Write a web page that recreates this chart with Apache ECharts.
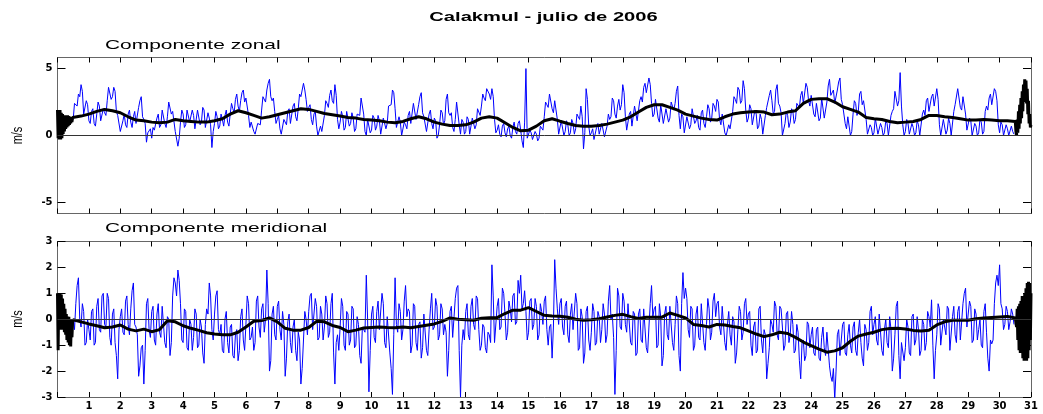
<!DOCTYPE html>
<html><head><meta charset="utf-8">
<script src="https://cdn.jsdelivr.net/npm/echarts@6/dist/echarts.min.js"></script>
<style>html,body{margin:0;padding:0;background:#fff}#c{width:1043px;height:414px}</style>
</head><body><div id="c"></div>
<script>
const TITLE = 'Calakmul - julio de 2006';
const PANEL_TITLES = ['Componente zonal', 'Componente meridional'];
const Y_UNIT = 'm/s';
const DAY_MIN = 0, DAY_MAX = 31;
const ZONAL_TICKS = [-5, 0, 5];
const MERID_TICKS = [-3, -2, -1, 0, 1, 2, 3];

// raw series: 24 samples per day (hourly), one row per day 0..30
const RAW_PER_DAY = 24;
const zonalRaw = [
null,null,null,null,null,null,null,null,null,null,null,null,1.2,2.4,2.4,2.2,3.1,2.9,3.8,3.3,1.6,1.5,2.6,2.3,
1.1,0.9,1.8,2.0,0.9,0.7,1.6,2.5,2.2,1.1,1.2,2.0,1.7,1.5,2.6,3.6,3.7,2.7,2.9,3.6,3.3,1.8,1.5,1.4,
0.3,0.2,1.1,1.6,0.8,0.6,1.6,1.9,1.0,0.6,1.4,1.8,0.9,0.9,2.1,2.6,2.9,1.4,1.2,0.9,-0.5,0.2,0.1,0.5,
-0.2,0.6,0.4,0.3,1.3,1.6,0.6,0.8,1.9,2.0,0.9,0.6,1.4,2.5,2.6,1.6,1.8,1.7,0.3,0.3,-0.8,-0.2,1.0,1.9,
1.6,0.6,0.8,1.9,2.0,1.0,1.1,1.9,1.5,0.5,0.6,1.9,1.8,0.8,1.0,2.1,1.9,0.6,0.7,1.7,1.3,0.8,-0.9,0.3,
0.9,1.8,1.4,0.5,0.7,1.6,1.2,0.7,1.5,1.9,1.0,0.7,1.6,2.4,2.0,1.7,2.7,3.1,2.2,1.8,2.6,3.2,3.4,2.5,
2.8,2.7,1.5,0.6,1.0,1.1,0.3,0.1,0.0,0.9,1.0,0.8,1.9,2.9,2.8,2.5,3.4,3.9,4.2,2.9,2.6,2.8,1.8,0.9,
1.2,1.5,0.5,0.1,0.0,1.2,1.1,0.8,1.8,2.0,0.9,1.0,2.2,2.4,1.4,1.1,2.0,3.1,2.9,2.8,3.9,3.4,2.7,1.8,
2.1,2.3,1.2,0.8,1.6,1.8,0.7,0.0,0.0,0.7,0.3,0.4,1.5,2.6,2.4,2.1,3.0,3.4,2.6,2.4,3.8,3.0,1.2,0.5,
1.0,1.8,1.4,0.4,0.6,1.8,1.7,0.7,0.9,1.7,1.3,0.3,0.5,1.6,1.5,1.5,2.8,2.7,1.6,0.3,0.0,1.2,1.2,0.2,
0.4,1.5,1.3,0.4,0.7,1.5,1.1,0.1,0.2,1.3,1.4,0.5,0.9,2.2,2.2,2.3,3.4,3.2,2.0,0.6,0.5,1.4,1.0,0.0,
0.1,1.0,0.8,0.5,1.5,1.8,0.9,1.0,2.4,2.5,1.2,1.1,2.3,2.9,3.2,1.7,1.4,1.5,0.3,0.3,1.6,1.9,0.9,0.5,
1.3,1.1,-0.2,0.0,0.8,1.9,1.7,0.8,1.1,2.7,3.1,1.7,1.5,1.7,0.6,0.3,1.2,2.5,2.6,0.8,0.1,1.2,1.0,0.1,
0.3,1.4,1.2,0.1,0.0,1.3,1.4,0.5,0.8,2.0,1.9,1.5,2.2,3.1,2.8,2.6,3.5,3.5,3.1,2.7,3.5,2.9,1.2,0.2,
0.4,0.8,0.1,-0.1,0.7,0.9,0.2,-0.1,0.5,0.7,0.0,-0.2,0.6,1.0,0.3,0.1,0.9,1.1,0.4,-0.4,-0.9,1.0,5.0,-0.2,
-0.3,0.4,0.2,-0.3,-0.4,0.3,0.1,-0.4,-0.2,0.7,0.6,0.4,1.4,2.5,2.3,2.1,3.1,3.0,2.0,1.7,2.6,2.5,1.2,0.1,
0.0,1.1,1.0,0.0,0.3,1.1,0.8,0.0,0.2,1.2,0.9,0.1,0.5,1.6,1.4,1.2,2.2,1.4,-1.0,0.2,3.5,2.7,0.7,0.0,
0.2,0.5,-0.3,-0.2,0.6,0.9,0.1,0.0,0.9,0.9,-0.1,-0.1,0.7,1.6,1.2,1.4,2.8,2.6,1.6,1.3,2.2,2.7,1.9,2.3,
3.8,3.2,1.4,0.4,0.3,1.6,1.8,0.7,0.8,2.2,2.3,1.1,1.2,2.6,2.9,2.5,3.6,3.9,3.2,3.1,4.3,3.8,2.4,1.4,
1.6,2.7,2.8,1.3,1.0,2.3,2.2,0.9,0.8,2.0,1.9,1.0,1.3,2.5,2.6,1.9,2.4,3.3,3.7,1.5,0.5,1.6,1.4,0.2,
0.3,1.4,1.5,0.5,0.8,2.0,1.9,0.9,1.1,1.5,0.6,0.4,1.7,1.9,0.9,0.6,1.4,2.3,2.0,1.0,1.3,2.4,2.2,1.8,
2.7,2.5,1.2,0.8,1.6,1.5,0.2,0.0,0.0,0.8,0.5,0.4,1.8,2.9,2.7,2.4,3.6,3.4,2.4,2.6,4.1,3.5,1.9,1.0,
1.3,2.3,2.0,0.8,0.9,1.9,1.6,0.5,0.7,1.6,1.2,0.1,0.0,1.5,2.1,2.0,3.0,3.4,2.6,1.6,1.8,3.4,3.8,2.4,
2.2,1.7,0.0,0.1,0.9,1.8,1.5,0.6,1.0,2.0,1.8,0.9,1.2,2.4,2.5,2.1,3.0,3.3,2.4,2.5,3.9,3.6,2.6,2.2,
3.0,2.9,1.6,1.4,2.4,2.4,1.1,1.3,2.8,2.7,1.3,1.2,2.5,3.7,4.2,3.0,3.1,3.4,2.4,2.3,3.4,4.0,4.3,2.7,
2.3,2.2,0.9,0.5,1.4,1.3,0.0,0.3,1.6,2.6,2.4,1.5,1.8,3.1,3.3,2.3,2.6,2.5,1.2,0.1,0.0,0.8,0.6,0.0,
0.2,1.3,1.2,0.1,0.0,0.9,0.6,0.0,0.2,1.1,0.9,0.0,0.1,1.5,1.8,2.0,3.3,3.2,2.2,2.6,4.7,2.2,0.8,0.0,
0.3,1.2,0.9,0.1,0.0,0.9,0.6,0.0,0.2,1.1,0.8,0.0,0.1,1.6,1.9,1.5,2.6,2.8,1.8,1.7,2.9,3.1,2.2,2.2,
3.5,2.7,0.8,0.0,0.0,1.2,1.1,0.1,0.4,1.3,0.9,0.0,0.1,1.8,2.3,2.2,3.5,3.4,2.1,1.9,2.9,2.8,1.6,0.4,
0.4,1.3,1.1,0.0,0.0,0.9,0.7,0.0,0.2,1.2,1.0,0.1,0.3,1.8,2.2,1.9,2.8,3.1,2.3,2.2,3.5,3.3,2.6,0.8,
0.2,1.0,0.8,0.0,0.0,0.8,0.5,0.0,0.1,0.7,0.3,0.1,null,null,null,null,null,null,null,null,null,null,null,null
];
const meridRaw = [
null,null,null,null,null,null,null,null,null,null,null,null,0.0,-0.4,0.6,1.3,1.6,0.0,-0.3,0.6,0.3,-1.0,-0.9,0.0,
-0.4,-0.8,0.3,0.4,-1.0,-0.9,0.5,0.8,-0.4,-0.5,0.9,1.0,-0.2,-0.3,1.0,0.8,-0.7,-1.0,0.2,0.4,-0.9,-1.4,-2.3,-0.4,
0.1,0.4,-0.5,-0.6,0.7,0.9,-0.2,-0.6,0.4,1.1,1.4,-0.2,-0.3,-0.6,-2.2,-1.8,-1.1,-1.0,-2.5,-1.2,0.6,0.8,-0.4,-0.7,
0.3,0.5,-0.8,-1.0,0.2,0.6,-0.5,-0.7,0.5,0.5,-0.9,-1.1,0.1,0.0,-1.4,-0.9,0.9,1.6,1.4,0.9,1.9,1.5,0.6,-0.8,
-0.9,0.4,0.3,-1.1,-1.2,0.0,-0.2,-1.2,-0.7,0.4,0.2,-1.1,-1.0,0.0,-0.3,-1.3,-1.7,-0.2,0.4,0.2,1.4,0.9,-0.4,-0.8,
0.2,0.9,1.1,-0.4,-0.6,-0.2,-1.2,-1.3,0.0,0.3,-0.9,-1.3,-0.3,-0.2,-1.4,-1.5,-0.6,-0.4,-1.6,-1.2,0.1,0.4,-0.8,-1.2,
-0.2,0.9,0.6,-0.8,-0.7,-0.3,-1.2,-0.9,0.7,0.9,-0.3,-0.7,0.4,0.6,-0.5,0.0,1.9,0.6,-2.0,-1.6,0.2,0.5,-0.6,-0.8,
0.5,0.7,-0.4,-0.8,0.3,-0.2,-2.2,-1.5,-0.1,0.2,-0.9,-1.3,-0.3,0.0,-1.2,-1.6,-0.5,-0.8,-2.5,-1.9,-0.8,0.3,0.0,-0.6,
0.3,0.9,1.0,-0.4,-0.4,0.8,0.5,-0.8,-0.7,0.5,0.2,-0.8,-0.3,0.9,0.6,-0.7,-0.5,0.6,1.0,-1.3,-2.5,-0.9,-0.6,-1.2,
-0.3,0.8,0.5,-1.0,-1.2,0.3,0.2,-1.0,-0.8,0.5,0.4,-1.1,-1.0,0.1,-0.2,-1.4,-1.7,-0.3,-0.4,-0.5,1.7,0.0,-2.8,-1.2,
0.2,0.5,-0.7,-0.9,0.3,0.7,-0.4,-0.4,1.0,0.6,-0.9,-1.1,0.1,0.1,-1.3,-1.9,-2.9,-0.6,1.6,-0.2,-0.5,0.6,0.3,-0.8,
-0.4,0.7,1.3,0.1,0.4,0.3,-1.3,-1.0,0.6,0.5,-0.9,-1.2,-0.2,-0.1,-1.5,-1.1,0.2,0.2,-1.2,-1.4,-0.4,0.4,1.0,-0.4,
-0.3,0.8,0.5,-0.8,-0.6,0.6,0.4,-0.6,-0.2,-0.5,-2.2,-1.2,0.3,0.5,-0.7,-0.7,0.8,1.2,1.3,-1.2,-3.0,-1.0,-0.4,-0.8,
0.3,0.6,-0.6,-0.8,0.5,0.8,-0.2,-0.4,0.9,0.8,-0.4,-1.2,-1.0,-0.2,-0.3,-1.1,-1.3,-0.5,-0.6,-0.9,2.1,0.9,-0.9,-0.9,
0.5,0.8,-0.4,-0.3,1.2,1.0,0.2,-0.8,-0.5,0.7,0.4,-0.1,0.9,1.0,-0.2,-0.1,1.5,1.0,1.7,0.4,0.6,1.1,0.3,-0.8,
-0.5,0.7,0.8,-0.4,-0.2,0.8,0.5,-0.8,-0.6,0.6,0.3,-0.2,0.7,0.9,-0.4,-1.0,-0.3,-0.2,-1.5,-0.3,2.3,1.2,0.4,-0.2,
0.6,0.8,-0.3,-0.6,0.5,0.7,-0.6,-0.9,0.2,0.6,-0.4,-0.4,1.0,0.6,-1.2,-1.1,0.4,0.1,-1.7,-1.3,0.3,0.5,-0.8,-1.2,
-0.5,0.6,0.3,-1.0,-0.9,0.3,0.1,-0.9,-0.4,0.6,0.2,-0.9,-0.6,0.7,1.3,0.0,0.2,-0.7,-2.9,-1.2,1.2,0.9,-0.3,-0.4,
1.0,0.7,-0.2,-0.5,0.6,0.6,-0.9,-1.0,0.3,0.2,-1.4,-1.3,0.2,0.4,-0.8,-0.9,0.4,0.4,-1.1,-1.3,-0.3,0.6,1.3,0.1,
0.4,0.5,-1.1,-1.0,0.6,0.1,-1.8,-1.4,0.2,0.5,-0.6,-0.8,0.5,0.5,-0.9,-1.2,-0.2,0.9,0.6,-1.4,-2.0,0.6,1.8,0.8,
1.2,0.8,-0.4,-0.7,0.5,0.4,-1.2,-1.0,0.2,0.5,-0.7,-0.8,0.6,0.6,-0.9,-1.2,-0.2,0.8,0.4,-0.8,-0.5,0.7,1.0,0.1,
0.6,0.7,-0.3,-0.6,0.5,0.5,-0.9,-1.2,-0.2,0.3,-0.6,-1.0,0.1,-0.1,-1.7,-1.3,-0.4,0.5,0.3,-0.8,-0.5,0.6,0.8,-0.2,
0.2,0.3,-1.0,-1.4,-0.3,-0.1,-1.3,-1.2,0.4,0.5,-0.8,-1.3,-0.4,-0.6,-2.3,-1.7,-1.1,0.0,-0.2,-0.5,0.7,0.5,-0.6,-0.8,
0.5,0.4,-0.3,-1.2,-1.0,0.2,0.3,-0.9,-0.6,0.3,-0.2,-1.3,-1.2,-0.2,-0.5,-1.6,-2.3,-0.9,-0.8,-1.6,-1.4,-0.1,-0.2,-1.1,
-0.6,-0.3,-1.3,-1.4,-0.4,-0.3,-1.5,-1.6,-0.7,-0.3,-1.1,-1.4,-0.5,-0.5,-1.8,-2.2,-2.4,-1.9,-3.1,-2.0,-0.6,-0.4,-1.4,-1.4,
-0.2,-0.1,-1.3,-1.4,-0.6,-0.2,-1.0,-1.3,-0.3,-0.1,-1.2,-1.4,-0.5,0.0,-0.9,-1.5,-1.8,-0.2,-0.4,-1.2,-0.9,0.3,0.5,-0.6,
-0.2,0.1,-0.8,-1.0,0.2,0.2,-1.2,-1.4,-0.4,0.0,-0.9,-1.1,0.1,-0.4,-2.0,-1.5,-0.6,0.5,0.7,-1.4,-2.3,-0.9,-0.9,-1.6,
-1.1,0.0,-0.3,-1.3,-1.4,0.1,0.2,-1.0,-0.8,0.1,-0.4,-1.4,-1.2,0.0,-0.2,-1.2,-0.9,0.3,0.1,-0.3,0.75,-1.0,-2.3,-1.2,
-0.6,0.6,0.4,-1.0,-1.0,0.0,-0.3,-0.6,0.5,0.4,-1.2,-1.2,0.1,0.5,-0.6,-0.9,0.3,0.5,-0.8,-0.8,0.6,1.0,1.2,-0.3,
-0.3,0.7,0.5,-0.9,-0.8,0.4,0.2,-0.8,-0.4,0.0,-1.0,-1.1,0.3,0.6,-0.5,-1.5,-2.0,-0.8,-0.95,-0.8,0.6,1.4,1.7,1.3,
2.1,0.6,0.4,-0.4,-0.2,0.5,0.3,-0.4,-0.1,0.4,0.2,-0.2,null,null,null,null,null,null,null,null,null,null,null,null
];

// smoothed series: every 0.25 day from day 0.5 to 30.5
const SMOOTH_START = 0.5, SMOOTH_STEP = 0.25;
const zonalSmooth = [
1.3,1.45,1.6,1.8,1.95,1.85,1.7,1.4,1.15,1.1,1.0,0.95,1.0,1.2,1.1,1.05,1.0,1.0,1.1,1.25,
1.6,1.85,1.7,1.5,1.3,1.4,1.55,1.7,1.85,2.0,1.95,1.8,1.65,1.55,1.45,1.35,1.3,1.2,1.15,1.1,
1.0,0.95,1.05,1.25,1.4,1.25,1.0,0.85,0.75,0.75,0.8,1.0,1.3,1.4,1.3,0.95,0.6,0.35,0.4,0.7,
1.1,1.25,1.07,0.9,0.75,0.7,0.7,0.75,0.85,1.0,1.15,1.4,1.75,2.1,2.3,2.3,2.1,1.9,1.6,1.45,
1.3,1.2,1.15,1.4,1.6,1.7,1.75,1.8,1.75,1.55,1.6,1.75,1.85,2.4,2.7,2.75,2.75,2.5,2.15,1.95,
1.75,1.35,1.25,1.2,1.05,0.95,1.0,1.05,1.2,1.5,1.5,1.4,1.35,1.25,1.15,1.15,1.2,1.15,1.1,1.1,
1.05
];
const meridSmooth = [
-0.02,-0.1,-0.18,-0.25,-0.33,-0.3,-0.22,-0.38,-0.45,-0.38,-0.48,-0.4,-0.06,-0.1,-0.25,-0.35,-0.43,-0.52,-0.57,-0.6,
-0.6,-0.5,-0.3,-0.08,-0.05,0.05,-0.1,-0.35,-0.42,-0.42,-0.32,-0.08,-0.1,-0.24,-0.32,-0.48,-0.42,-0.34,-0.32,-0.3,
-0.32,-0.33,-0.3,-0.33,-0.28,-0.23,-0.18,-0.08,0.05,0.0,-0.02,-0.04,0.04,0.06,0.06,0.22,0.35,0.35,0.45,0.3,
0.15,0.13,0.12,0.08,0.0,-0.04,-0.02,0.02,0.09,0.15,0.19,0.1,0.03,0.08,0.08,0.08,0.24,0.15,0.05,-0.2,
-0.24,-0.3,-0.2,-0.22,-0.28,-0.33,-0.45,-0.57,-0.67,-0.6,-0.5,-0.55,-0.7,-0.88,-1.02,-1.15,-1.27,-1.22,-1.1,-0.85,
-0.65,-0.57,-0.5,-0.4,-0.36,-0.35,-0.38,-0.43,-0.45,-0.42,-0.22,-0.1,-0.04,-0.04,-0.04,0.02,0.05,0.07,0.09,0.11,
0.05
];
// filter edge effects: every 0.02 day, left from day 0, right from day 30.52
const EDGE_STEP = 0.02, EDGE_L_START = 0, EDGE_R_START = 30.52;
const zonalEdgeL = [1.9,-0.2,1.8,-0.3,1.9,-0.3,1.7,-0.2,1.6,0.1,1.5,0.3,1.5,0.5,1.5,0.6,1.5,0.7,1.45,0.8,1.4,0.9,1.4,1.0,1.35];
const zonalEdgeR = [0.3,0.0,1.2,0.2,1.8,0.5,2.3,0.9,2.8,1.3,3.3,1.8,3.8,2.5,4.2,3.0,4.1,2.4,3.5,1.6,2.6,0.9,1.6,0.6,0.8];
const meridEdgeL = [1.0,-1.2,1.0,-0.4,1.0,-0.4,0.95,-0.3,0.8,-0.4,0.6,-0.5,0.4,-0.6,0.2,-0.8,0.1,-0.9,0.1,-1.0,0.0,-1.05,0.0,-0.7,-0.1];
const meridEdgeR = [0.1,-0.3,0.4,-0.8,0.5,-1.2,0.6,-1.3,0.7,-1.0,0.9,-1.5,0.6,-1.6,1.0,-1.4,1.2,-1.6,1.4,-1.5,1.45,-1.2,1.4,-0.8,1.0];

function rawPts(arr) { return arr.map((v, i) => [DAY_MIN + i / RAW_PER_DAY, v]); }
function smoothPts(edgeL, main, edgeR) {
  const a = edgeL.map((v, i) => [EDGE_L_START + i * EDGE_STEP, v]);
  const b = main.map((v, i) => [SMOOTH_START + i * SMOOTH_STEP, v]);
  const c = edgeR.map((v, i) => [EDGE_R_START + i * EDGE_STEP, v]);
  return a.concat(b, c);
}

const TXT = '"Liberation Sans", Arial, Helvetica, sans-serif';
const TICKF = '"DejaVu Sans", sans-serif';
const AXC = '#666';

function xAx(grid, pos, labels) {
  return {
    type: 'value', gridIndex: grid, position: pos, min: DAY_MIN, max: DAY_MAX, interval: 1,
    axisLine: { show: true, onZero: false, lineStyle: { color: AXC, width: 1 } },
    axisTick: { show: true, inside: true, length: 5, lineStyle: { color: '#000', width: 1 } },
    axisLabel: { show: labels, margin: 4, fontFamily: TICKF, fontWeight: 'bold', fontSize: 10, color: '#000',
      showMinLabel: true, showMaxLabel: true, formatter: v => (v === 0 ? '' : String(v)) },
    splitLine: { show: false }
  };
}
function yAx(grid, pos, labels, min, max, ticks) {
  return {
    type: 'value', gridIndex: grid, position: pos, min: min, max: max,
    axisLine: { show: true, onZero: false, lineStyle: { color: AXC, width: 1 } },
    axisTick: { show: true, inside: true, length: 8, customValues: ticks, lineStyle: { color: '#000', width: 1 } },
    axisLabel: { show: labels, margin: 5, customValues: ticks, fontFamily: TICKF, fontWeight: 'bold', fontSize: 10, color: '#000',
      showMinLabel: true, showMaxLabel: true },
    splitLine: { show: false }
  };
}
const zeroLine = { silent: true, symbol: 'none', label: { show: false },
  lineStyle: { color: '#333', width: 1, type: 'solid' }, data: [{ yAxis: 0 }] };

const chart = echarts.init(document.getElementById('c'), null, { renderer: 'canvas' });
chart.setOption({
  animation: false,
  backgroundColor: '#fff',
  grid: [
    { left: 57.5, top: 57.5, width: 973.5, height: 156 },
    { left: 57.5, top: 241.5, width: 973.5, height: 155.5 }
  ],
  xAxis: [xAx(0, 'bottom', false), xAx(0, 'top', false), xAx(1, 'bottom', true), xAx(1, 'top', false)],
  yAxis: [
    yAx(0, 'left', true, -5.83, 5.83, ZONAL_TICKS), yAx(0, 'right', false, -5.83, 5.83, ZONAL_TICKS),
    yAx(1, 'left', true, -3, 3, MERID_TICKS), yAx(1, 'right', false, -3, 3, MERID_TICKS)
  ],
  series: [
    { type: 'line', xAxisIndex: 0, yAxisIndex: 0, data: rawPts(zonalRaw), symbol: 'none', showSymbol: false,
      lineStyle: { color: '#0000ff', width: 1 }, z: 2, markLine: zeroLine },
    { type: 'line', xAxisIndex: 0, yAxisIndex: 0, data: smoothPts(zonalEdgeL, zonalSmooth, zonalEdgeR), symbol: 'none', showSymbol: false,
      lineStyle: { color: '#000', width: 3 }, z: 3 },
    { type: 'line', xAxisIndex: 2, yAxisIndex: 2, data: rawPts(meridRaw), symbol: 'none', showSymbol: false,
      lineStyle: { color: '#0000ff', width: 1 }, z: 2, markLine: zeroLine },
    { type: 'line', xAxisIndex: 2, yAxisIndex: 2, data: smoothPts(meridEdgeL, meridSmooth, meridEdgeR), symbol: 'none', showSymbol: false,
      lineStyle: { color: '#000', width: 3 }, z: 3 }
  ],
  graphic: [
    { type: 'text', x: 543.5, y: 17.3, scaleX: 1.55, style: { text: TITLE, font: 'bold 13px ' + TXT, fill: '#000', textAlign: 'center', textVerticalAlign: 'middle' } },
    { type: 'text', x: 105, y: 45.3, scaleX: 1.55, style: { text: PANEL_TITLES[0], font: '13.5px ' + TXT, fill: '#000', textAlign: 'left', textVerticalAlign: 'middle' } },
    { type: 'text', x: 105, y: 228, scaleX: 1.55, style: { text: PANEL_TITLES[1], font: '13.5px ' + TXT, fill: '#000', textAlign: 'left', textVerticalAlign: 'middle' } },
    { type: 'text', x: 18, y: 135.5, rotation: Math.PI / 2, scaleY: 1.3, style: { text: Y_UNIT, font: '11px ' + TXT, fill: '#000', textAlign: 'center', textVerticalAlign: 'middle' } },
    { type: 'text', x: 18, y: 319, rotation: Math.PI / 2, scaleY: 1.3, style: { text: Y_UNIT, font: '11px ' + TXT, fill: '#000', textAlign: 'center', textVerticalAlign: 'middle' } }
  ]
});
</script></body></html>
